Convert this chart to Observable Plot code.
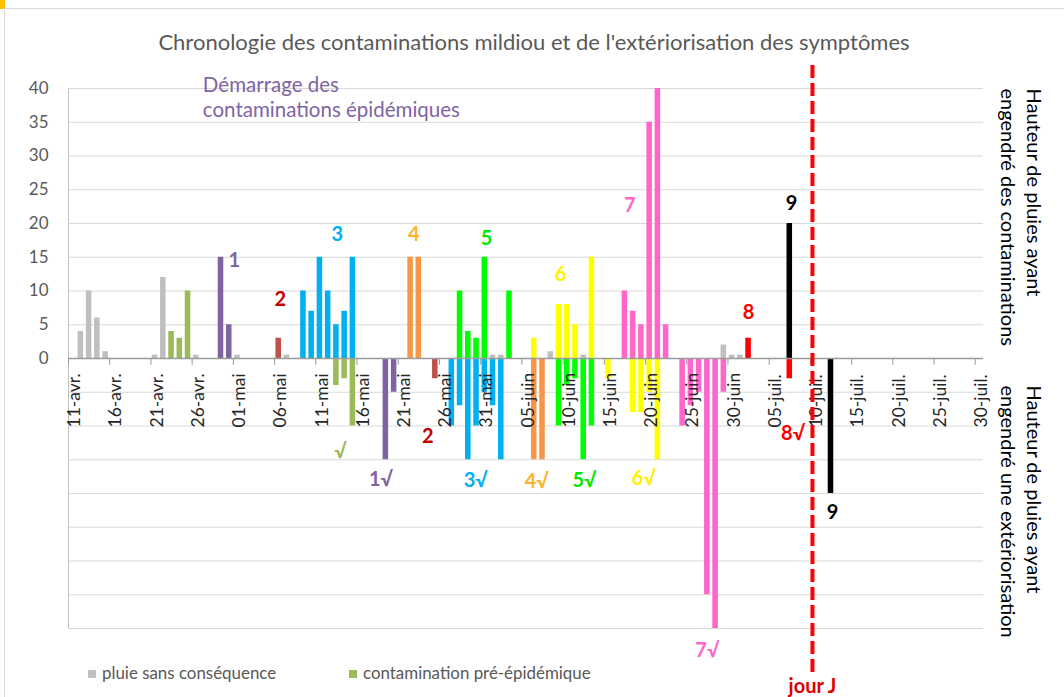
<!DOCTYPE html>
<html><head><meta charset="utf-8">
<script src="https://cdn.jsdelivr.net/npm/d3@7"></script>
<script src="https://cdn.jsdelivr.net/npm/@observablehq/plot@0.6"></script>
<style>
body{margin:0;background:#fff;font-family:Lato,"Open Sans",sans-serif;}
#wrap{position:relative;width:1064px;height:697px;overflow:hidden;background:#fff;}
#topbar{position:absolute;left:0;top:0;width:5px;height:9px;background:#FFC000;}
#topline{position:absolute;left:5px;top:8px;width:1059px;height:1px;background:#D9D9D9;}
#leftline{position:absolute;left:4px;top:8px;width:1px;height:689px;background:#D9D9D9;}
#title{position:absolute;left:0;top:29px;width:1068px;text-align:center;font-size:22px;line-height:26px;color:#595959;}
#chart{position:absolute;left:0;top:55px;}
#legend{position:absolute;top:662px;left:88px;font-size:16.9px;color:#595959;white-space:nowrap;}
#legend span.item{position:absolute;top:0;}
#legend i{display:inline-block;width:8px;height:8px;margin-right:6px;vertical-align:1px;}
</style></head>
<body><div id="wrap">
<div id="topbar"></div><div id="topline"></div><div id="leftline"></div>
<div id="title">Chronologie des contaminations mildiou et de l'extériorisation des symptômes</div>
<div id="chart"></div>
<div id="legend"></div>
</div>
<script>
// ---- data (date "MM-DD", hauteur de pluie en mm; négatif = extériorisation) ----
const startDate = "04-11";
const xTickLabels = ["11-avr.","16-avr.","21-avr.","26-avr.","01-mai","06-mai","11-mai","16-mai","21-mai","26-mai","31-mai","05-juin","10-juin","15-juin","20-juin","25-juin","30-juin","05-juil.","10-juil.","15-juil.","20-juil.","25-juil.","30-juil."];
const yTicks = [0,5,10,15,20,25,30,35,40];
const gridValues = [-40,-35,-30,-25,-20,-15,-10,-5,0,5,10,15,20,25,30,35,40];

const pluieSansConsequence = [["04-12",4],["04-13",10],["04-14",6],["04-15",1],["04-21",0.5],["04-22",12],["04-26",0.5],["05-01",0.5],["05-07",0.5],["06-01",0.5],["06-02",0.5],["06-08",1],["06-12",0.5],["06-29",2],["06-30",0.5],["07-01",0.5]];
const preEpidemique = [["04-23",4],["04-24",3],["04-25",10],["05-13",-4],["05-14",-3],["05-15",-10]];
const contam1 = [["04-29",15],["04-30",5],["05-19",-15],["05-20",-5]];
const contam2 = [["05-06",3],["05-25",-3]];
const contam3 = [["05-09",10],["05-10",7],["05-11",15],["05-12",10],["05-13",5],["05-14",7],["05-15",15],["05-27",-10],["05-28",-7],["05-29",-15],["05-30",-10],["05-31",-5],["06-01",-7],["06-02",-15]];
const contam4 = [["05-22",15],["05-23",15],["06-06",-15],["06-07",-15]];
const contam5 = [["05-28",10],["05-29",4],["05-30",3],["05-31",15],["06-03",10],["06-09",-10],["06-10",-4],["06-11",-3],["06-12",-15],["06-13",-10]];
const contam6 = [["06-06",3],["06-09",8],["06-10",8],["06-11",5],["06-13",15],["06-15",-3],["06-18",-8],["06-19",-8],["06-20",-5],["06-21",-15]];
const contam7 = [["06-17",10],["06-18",7],["06-19",5],["06-20",35],["06-21",40],["06-22",5],["06-24",-10],["06-25",-7],["06-26",-5],["06-27",-35],["06-28",-40],["06-29",-5]];
const contam8 = [["07-02",3],["07-07",-3]];
const contam9 = [["07-07",20],["07-12",-20]];

const seriesColors = ["#BFBFBF","#9BBB59","#8064A2","#C0504D","#00B0F0","#F79646","#00FF00","#FFFF00","#FF66CC","#FF0000","#000000"];
const seriesList = [pluieSansConsequence, preEpidemique, contam1, contam2, contam3, contam4, contam5, contam6, contam7, contam8, contam9];

// annotation labels: text, day position (days after 11-avr.), value, colour
const annText  = ["1","2","3","4","5","6","7","8","9","√","1√","2","3√","4√","5√","6√","7√","8√","9"];
const annDay   = [20.1,25.7,32.6,41.9,50.7,59.7,68.1,82.5,87.7,33.0,37.9,43.6,49.4,56.8,62.6,69.8,77.5,87.9,92.7];
const annValue = [14.5,8.7,18.3,18.4,17.8,12.4,22.7,6.8,23.0,-13.8,-17.9,-11.6,-18.1,-18.3,-18.1,-17.8,-43.3,-11.1,-22.9];
const annColor = ["#8064A2","#C00000","#00B0F0","#FFB22C","#00E800","#FFF000","#FF66CC","#FF0000","#000000","#9BBB59","#8064A2","#C00000","#00B0F0","#FFB22C","#00E800","#FFF000","#FF66CC","#FF0000","#000000"];

const jourJDay = 90.25;           // position of the "jour J" marker (10-juil.)
const xDomainEnd = 111;

// ---- helpers ----
function dayIndex(s){
  const [m,d] = s.split("-").map(Number);
  const [m0,d0] = startDate.split("-").map(Number);
  return Math.round((Date.UTC(2021,m-1,d) - Date.UTC(2021,m0-1,d0)) / 864e5);
}
const annotations = annText.map((t,i)=>({t, d: annDay[i], v: annValue[i], c: annColor[i]}));
const xTickDays = xTickLabels.map((_,i)=>i*5);

const barMarks = seriesList.map((s,k)=>Plot.rect(s, {
  x1: d=>dayIndex(d[0]), x2: d=>dayIndex(d[0])+1, y1: 0, y2: d=>d[1],
  fill: seriesColors[k], insetLeft: 1.35, insetRight: 1.35
}));

const chart = Plot.plot({
  width: 1064, height: 642,
  marginLeft: 68, marginRight: 81, marginTop: 33, marginBottom: 69,
  x: {domain: [0, xDomainEnd], axis: null},
  y: {domain: [-40, 40], axis: null},
  color: {type: "identity"},
  style: {fontFamily: "Lato, 'Open Sans', sans-serif", background: "transparent", overflow: "visible"},
  marks: [
    Plot.ruleY(gridValues, {stroke: "#D9D9D9", strokeWidth: 1}),
    Plot.ruleX([0], {y1: -40, y2: 40, stroke: "#BFBFBF"}),
    ...barMarks,
    Plot.ruleY([0], {stroke: "#9A9A9A", strokeWidth: 1.4}),
    Plot.ruleX(xTickDays, {x: d=>d, y1: 0, y2: -1, stroke: "#9A9A9A"}),
    Plot.text(xTickLabels, {x: (d,i)=>xTickDays[i]+0.5, y: 0, text: d=>d, rotate: -90, textAnchor: "start", dy: 69, dx: 2, fontSize: 17.5, fill: "#262626"}),
    Plot.text(yTicks, {x: 0, y: d=>d, text: d=>String(d), textAnchor: "end", dx: -20, fontSize: 17, fill: "#595959"}),
    Plot.text(annotations, {x: "d", y: "v", text: "t", fill: "c", fontWeight: "bold", fontSize: 20}),
    Plot.text(["Démarrage des\ncontaminations épidémiques"], {x: 16.3, y: 40, text: d=>d, textAnchor: "start", lineAnchor: "top", dy: -14, fontSize: 20.5, lineHeight: 1.22, fill: "#8064A2"}),
    Plot.text(["Hauteur de pluies ayant\nengendré des contaminations"], {x: xDomainEnd, y: 40, text: d=>d, rotate: 90, textAnchor: "start", lineAnchor: "top", dx: 62, fontSize: 20, lineHeight: 1.3, fill: "#000000"}),
    Plot.text(["Hauteur de pluies ayant\nengendré une extériorisation"], {x: xDomainEnd, y: -4, text: d=>d, rotate: 90, textAnchor: "start", lineAnchor: "top", dx: 62, fontSize: 20, lineHeight: 1.3, fill: "#000000"}),
    Plot.ruleX([jourJDay], {y1: 43.4, y2: -47, stroke: "#FF0000", strokeWidth: 4, strokeDasharray: "13,5"}),
    Plot.text(["jour J"], {x: jourJDay, y: -40, text: d=>d, dy: 58, fontSize: 20, fontWeight: "bold", fill: "#E00000"})
  ]
});
document.getElementById("chart").appendChild(chart);

// legend
const legendItems = [["pluie sans conséquence", seriesColors[0], 0], ["contamination pré-épidémique", seriesColors[1], 261]];
const leg = document.getElementById("legend");
legendItems.forEach(([label,col,left])=>{
  const s = document.createElement("span"); s.className = "item"; s.style.left = left+"px";
  s.innerHTML = `<i style="background:${col}"></i>${label}`;
  leg.appendChild(s);
});
</script>
</body></html>
